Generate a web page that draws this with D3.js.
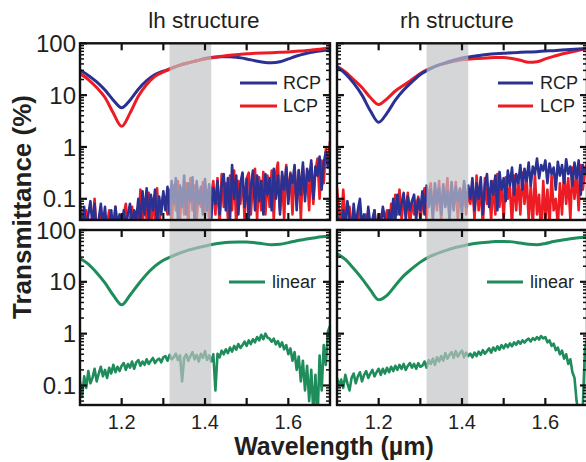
<!DOCTYPE html>
<html><head><meta charset="utf-8">
<script src="https://cdn.jsdelivr.net/npm/d3@7"></script>
<style>body{margin:0;background:#fff}svg{display:block}text{font-family:"Liberation Sans",Arial,sans-serif;fill:#231f20}</style>
</head><body><svg id="c" width="586" height="462"></svg>
<script>
// ---------- data ----------
const wlSmooth=[1.10,1.12,1.14,1.16,1.18,1.20,1.22,1.24,1.26,1.28,1.30,1.32,1.34,1.36,1.38,1.40,1.42,1.44,1.46,1.48,1.50,1.52,1.54,1.56,1.58,1.60,1.62,1.64,1.66,1.68,1.70];
const lhRCP=[30,24,18,12.5,8,5.7,8,13,19,25,29,33,38,42,46,51,54,55,55,53,50,46,43,42,44,50,57,63,68,72,75];
const lhLCP=[26,20,14,9,4.5,2.5,4.5,9.5,16,23,28,33,38,42,46,50,53,56,59,61,63,64,65,66,67,68,70,72,75,78,82];
const rhRCP=[35,26,17,10,5,3.0,4.5,8,12.5,18,25,31,37,42,47,52,55,58,61,63,64,66,67,68,69,71,72,74,76,78,80];
const rhLCP=[36,28,20,14,9,6.6,8.5,12,15.5,20,26,32,37,41,45,48,50,51,52,53,53,51,47,43,44,50,56,62,67,73,79];
const lhLinear=[28,22,15,9.5,5.5,3.6,5.5,9,14,20,26,31,36,41,45,49,53,56,58,59,59,57,54,52,53,57,62,66,70,74,77];
const rhLinear=[35,27,18,11.5,7,4.5,5.5,8.5,13,18,24,30,35,40,45,49,53,56,58,60,60,59,56,53,52,55,60,64,68,71,74];

const wlNoise=[1.100,1.105,1.110,1.115,1.120,1.125,1.130,1.135,1.140,1.145,1.150,1.155,1.160,1.165,1.170,1.175,1.180,1.185,1.190,1.195,1.200,
1.205,1.210,1.215,1.220,1.225,1.230,1.235,1.240,1.245,1.250,1.255,1.260,1.265,1.270,1.275,1.280,1.285,1.290,1.295,1.300,
1.305,1.310,1.315,1.320,1.325,1.330,1.335,1.340,1.345,1.350,1.355,1.360,1.365,1.370,1.375,1.380,1.385,1.390,1.395,1.400,1.405,1.410,1.415,1.420,
1.425,1.430,1.435,1.440,1.445,1.450,1.455,1.460,1.465,1.470,1.475,1.480,1.485,1.490,1.495,1.500,1.505,1.510,1.515,1.520,1.525,1.530,1.535,1.540,1.545,1.550,
1.555,1.560,1.565,1.570,1.575,1.580,1.585,1.590,1.595,1.600,1.605,1.610,1.615,1.620,1.625,1.630,1.635,1.640,1.645,1.650,1.655,1.660,1.665,1.670,1.675,1.680,1.685,1.690,1.695,1.700];

const lhRCPnoise=[0.06,0.03,0.07,0.02,0.05,0.09,0.03,0.08,0.02,0.04,0.08,0.03,0.07,0.02,0.03,0.06,0.02,0.07,0.03,0.05,0.02,
0.06,0.03,0.05,0.08,0.03,0.06,0.04,0.10,0.03,0.14,0.05,0.16,0.04,0.12,0.06,0.15,0.03,0.11,0.05,0.14,
0.06,0.17,0.05,0.22,0.08,0.25,0.04,0.18,0.07,0.28,0.05,0.20,0.09,0.26,0.04,0.22,0.08,0.17,0.05,0.24,0.06,0.19,0.04,0.16,
0.08,0.22,0.05,0.18,0.30,0.06,0.25,0.04,0.45,0.10,0.28,0.05,0.20,0.32,0.07,0.24,0.04,0.18,0.35,0.06,0.28,0.09,0.22,0.05,0.30,0.12,
0.25,0.06,0.38,0.10,0.28,0.05,0.33,0.15,0.40,0.08,0.30,0.20,0.45,0.06,0.35,0.12,0.50,0.09,0.38,0.22,0.55,0.10,0.42,0.28,0.65,0.15,0.50,0.80,0.40,0.70];
const lhLCPnoise=[0.09,0.04,0.03,0.06,0.02,0.04,0.03,0.10,0.02,0.03,0.05,0.02,0.04,0.03,0.06,0.02,0.03,0.07,0.02,0.04,0.03,
0.05,0.08,0.02,0.04,0.07,0.03,0.05,0.02,0.15,0.03,0.09,0.04,0.13,0.02,0.10,0.04,0.16,0.03,0.08,0.12,
0.10,0.05,0.15,0.03,0.18,0.06,0.22,0.04,0.16,0.05,0.20,0.03,0.25,0.06,0.18,0.04,0.14,0.07,0.21,0.05,0.15,0.04,0.12,0.22,
0.05,0.25,0.03,0.30,0.07,0.20,0.04,0.28,0.06,0.35,0.03,0.22,0.08,0.30,0.04,0.25,0.32,0.05,0.20,0.38,0.04,0.26,0.06,0.33,0.05,0.28,
0.07,0.35,0.04,0.30,0.50,0.06,0.28,0.04,0.45,0.10,0.32,0.05,0.40,0.08,0.36,0.04,0.42,0.12,0.30,0.06,0.48,0.08,0.35,0.60,0.10,0.55,0.20,0.90,0.45,1.30];
const rhRCPnoise=[0.05,0.03,0.02,0.06,0.03,0.09,0.04,0.02,0.08,0.03,0.06,0.10,0.03,0.05,0.02,0.07,0.03,0.04,0.06,0.02,0.05,
0.03,0.07,0.04,0.02,0.06,0.03,0.10,0.04,0.12,0.05,0.08,0.13,0.04,0.11,0.06,0.09,0.12,0.04,0.10,0.06,
0.14,0.05,0.18,0.07,0.15,0.04,0.20,0.08,0.16,0.05,0.19,0.07,0.14,0.04,0.21,0.06,0.17,0.09,0.15,0.05,0.22,0.07,0.18,0.10,
0.25,0.06,0.20,0.10,0.26,0.05,0.18,0.30,0.07,0.22,0.12,0.28,0.06,0.33,0.15,0.25,0.09,0.35,0.18,0.40,0.12,0.30,0.20,0.45,0.15,0.38,
0.22,0.50,0.18,0.42,0.30,0.60,0.25,0.45,0.35,0.55,0.20,0.48,0.30,0.40,0.15,0.52,0.28,0.45,0.20,0.58,0.30,0.42,0.18,0.50,0.25,0.55,0.12,0.45,0.30,0.40];
const rhLCPnoise=[0.16,0.06,0.03,0.15,0.04,0.02,0.07,0.03,0.05,0.02,0.04,0.06,0.02,0.03,0.05,0.02,0.04,0.03,0.06,0.02,0.03,
0.05,0.02,0.04,0.06,0.02,0.08,0.03,0.12,0.05,0.15,0.04,0.10,0.06,0.13,0.03,0.09,0.05,0.07,0.11,0.04,
0.08,0.16,0.04,0.12,0.20,0.05,0.14,0.06,0.22,0.04,0.15,0.09,0.25,0.05,0.18,0.07,0.21,0.04,0.16,0.10,0.19,0.05,0.14,0.08,
0.20,0.04,0.28,0.06,0.18,0.03,0.25,0.08,0.15,0.04,0.22,0.05,0.30,0.07,0.20,0.04,0.26,0.10,0.18,0.03,0.28,0.06,0.24,0.05,0.32,0.08,
0.25,0.04,0.18,0.03,0.30,0.05,0.12,0.02,0.22,0.04,0.15,0.03,0.28,0.06,0.10,0.03,0.20,0.05,0.35,0.08,0.25,0.04,0.40,0.10,0.30,0.06,0.45,0.15,0.35,0.50];
const lhLinearNoise=[0.12,0.06,0.15,0.09,0.19,0.11,0.14,0.21,0.12,0.17,0.23,0.15,0.20,0.14,0.22,0.17,0.25,0.18,0.23,0.19,0.24,
0.27,0.20,0.26,0.22,0.29,0.21,0.28,0.31,0.24,0.29,0.25,0.32,0.26,0.30,0.34,0.27,0.31,0.33,0.28,0.35,
0.37,0.30,0.39,0.32,0.35,0.41,0.31,0.38,0.12,0.34,0.40,0.30,0.37,0.44,0.32,0.39,0.29,0.41,0.34,0.46,0.31,0.38,0.29,0.40,
0.08,0.41,0.35,0.47,0.40,0.50,0.42,0.54,0.45,0.58,0.49,0.63,0.53,0.60,0.70,0.58,0.74,0.63,0.78,0.68,0.86,0.74,0.95,0.78,1.00,0.84,
0.80,0.70,0.80,0.62,0.72,0.56,0.68,0.50,0.60,0.40,0.52,0.30,0.44,0.20,0.36,0.12,0.30,0.08,0.24,0.05,0.20,0.03,0.16,0.02,0.38,0.08,0.60,0.25,1.10,1.40];
const rhLinearNoise=[0.14,0.10,0.13,0.09,0.16,0.11,0.08,0.14,0.17,0.11,0.15,0.18,0.12,0.16,0.19,0.14,0.17,0.20,0.15,0.18,0.21,
0.16,0.21,0.17,0.22,0.18,0.23,0.19,0.24,0.20,0.25,0.21,0.26,0.20,0.24,0.27,0.22,0.26,0.21,0.27,0.23,
0.24,0.29,0.22,0.31,0.26,0.33,0.25,0.35,0.29,0.37,0.30,0.42,0.33,0.39,0.44,0.34,0.46,0.36,0.42,0.47,0.35,0.43,0.37,0.41,
0.35,0.43,0.37,0.45,0.39,0.48,0.41,0.46,0.52,0.43,0.54,0.47,0.57,0.49,0.60,0.52,0.62,0.55,0.65,0.57,0.68,0.61,0.72,0.64,0.74,0.67,
0.75,0.80,0.71,0.82,0.75,0.86,0.77,0.90,0.81,0.86,0.68,0.74,0.58,0.64,0.48,0.54,0.40,0.47,0.33,0.40,0.26,0.32,0.18,0.14,0.05,0.03,0.02,0.04,0.50,0.80];

const xTicks=[1.2,1.3,1.4,1.5,1.6];
const xTickLabels=["1.2","1.4","1.6"];
const yTicks=[0.1,1,10,100];
const yTickLabels=["0.1","1","10","100"];
const panelTitles=["lh structure","rh structure"];
const band=[1.315,1.415];
const xTitle="Wavelength (\u00b5m)";
const yTitle="Transmittance (%)";

// ---------- layout ----------
const C={blue:"#2b3192",red:"#ed1c24",green:"#1f8c5b",band:"#bfc2c5"};
const svg=d3.select("#c");
const cols=[{x0:80,x1:330},{x0:337,x1:587}];
const rows=[{y0:43.3,y1:220,dom:[0.039,100]},{y0:230,y1:405,dom:[0.042,100]}];

const panels=[
 {c:0,r:0,series:[{x:wlNoise,y:lhLCPnoise,col:C.red},{x:wlNoise,y:lhRCPnoise,col:C.blue},{x:wlSmooth,y:lhRCP,col:C.blue,s:1},{x:wlSmooth,y:lhLCP,col:C.red,s:1}],
  legend:[{t:"RCP",col:C.blue,y:83},{t:"LCP",col:C.red,y:106}],lx:[240,277,283]},
 {c:1,r:0,series:[{x:wlNoise,y:rhLCPnoise,col:C.red},{x:wlNoise,y:rhRCPnoise,col:C.blue},{x:wlSmooth,y:rhLCP,col:C.red,s:1},{x:wlSmooth,y:rhRCP,col:C.blue,s:1}],
  legend:[{t:"RCP",col:C.blue,y:83},{t:"LCP",col:C.red,y:106}],lx:[498,533,540]},
 {c:0,r:1,series:[{x:wlNoise,y:lhLinearNoise,col:C.green},{x:wlSmooth,y:lhLinear,col:C.green,s:1}],
  legend:[{t:"linear",col:C.green,y:282}],lx:[229,265,272]},
 {c:1,r:1,series:[{x:wlNoise,y:rhLinearNoise,col:C.green},{x:wlSmooth,y:rhLinear,col:C.green,s:1}],
  legend:[{t:"linear",col:C.green,y:282}],lx:[487,523,530]}
];

const defs=svg.append("defs");
panels.forEach((p,i)=>{
  const c=cols[p.c], r=rows[p.r];
  const x=d3.scaleLinear().domain([1.1,1.7]).range([c.x0,c.x1]);
  const y=d3.scaleLog().domain(r.dom).range([r.y1,r.y0]);
  p.x=x;p.y=y;
  defs.append("clipPath").attr("id","clip"+i).append("rect")
    .attr("x",c.x0).attr("y",r.y0).attr("width",c.x1-c.x0).attr("height",r.y1-r.y0);
  const g=svg.append("g").attr("clip-path","url(#clip"+i+")");
  p.series.forEach(s=>{
    const line=d3.line().x((d,k)=>x(s.x[k])).y(d=>y(Math.max(d,0.005)))
      .curve(s.s?d3.curveMonotoneX:d3.curveLinear);
    g.append("path").datum(s.y).attr("d",line).attr("fill","none")
      .attr("stroke",s.col).attr("stroke-width",s.s?3:2.6).attr("stroke-linejoin","round");
  });
});

// shaded band (over the lines)
cols.forEach(c=>{
  const x=d3.scaleLinear().domain([1.1,1.7]).range([c.x0,c.x1]);
  svg.append("rect").attr("x",x(band[0])).attr("width",x(band[1])-x(band[0]))
    .attr("y",rows[0].y0).attr("height",rows[1].y1-rows[0].y0)
    .attr("fill",C.band).attr("opacity",0.68);
});

// frames, ticks, labels
panels.forEach(p=>{
  const c=cols[p.c], r=rows[p.r], x=p.x, y=p.y;
  const g=svg.append("g").attr("stroke","#111");
  xTicks.forEach(t=>{
    g.append("line").attr("x1",x(t)).attr("x2",x(t)).attr("y1",r.y0).attr("y2",r.y0+7).attr("stroke-width",2.2);
    g.append("line").attr("x1",x(t)).attr("x2",x(t)).attr("y1",r.y1).attr("y2",r.y1-7).attr("stroke-width",2.2);
  });
  const minor=[];
  [0.01,0.1,1,10].forEach(d=>{for(let m=2;m<=9;m++){const v=d*m; if(v>r.dom[0]&&v<r.dom[1]) minor.push(v);}});
  minor.forEach(v=>{
    g.append("line").attr("x1",c.x0).attr("x2",c.x0+4).attr("y1",y(v)).attr("y2",y(v)).attr("stroke-width",1.5);
    g.append("line").attr("x1",c.x1).attr("x2",c.x1-4).attr("y1",y(v)).attr("y2",y(v)).attr("stroke-width",1.5);
  });
  yTicks.forEach(v=>{
    g.append("line").attr("x1",c.x0).attr("x2",c.x0+7).attr("y1",y(v)).attr("y2",y(v)).attr("stroke-width",2.2);
    g.append("line").attr("x1",c.x1).attr("x2",c.x1-7).attr("y1",y(v)).attr("y2",y(v)).attr("stroke-width",2.2);
  });
  g.append("rect").attr("x",c.x0).attr("y",r.y0).attr("width",c.x1-c.x0).attr("height",r.y1-r.y0)
    .attr("fill","none").attr("stroke-width",2.4);
  // legend
  p.legend.forEach(l=>{
    svg.append("line").attr("x1",p.lx[0]).attr("x2",p.lx[1]).attr("y1",l.y).attr("y2",l.y)
      .attr("stroke",l.col).attr("stroke-width",3);
    svg.append("text").attr("x",p.lx[2]).attr("y",l.y).attr("dy","0.36em")
      .attr("font-size",18).text(l.t);
  });
  if(p.c===0){
    yTicks.forEach((v,k)=>{
      svg.append("text").attr("x",76).attr("y",y(v)).attr("dy","0.36em").attr("text-anchor","end")
        .attr("font-size",24).text(yTickLabels[k]);
    });
  }
  if(p.r===1){
    xTickLabels.forEach(t=>{
      svg.append("text").attr("x",x(+t)).attr("y",429).attr("text-anchor","middle")
        .attr("font-size",20).text(t);
    });
  }
});

// titles
svg.append("text").attr("x",204).attr("y",28).attr("text-anchor","middle").attr("font-size",22.5).text(panelTitles[0]);
svg.append("text").attr("x",457).attr("y",28).attr("text-anchor","middle").attr("font-size",22.5).text(panelTitles[1]);
svg.append("text").attr("x",334).attr("y",455).attr("text-anchor","middle").attr("font-size",25).attr("font-weight","bold").text(xTitle);
svg.append("text").attr("transform","translate(31,207) rotate(-90)").attr("text-anchor","middle")
  .attr("font-size",26).attr("font-weight","bold").text(yTitle);
</script></body></html>
